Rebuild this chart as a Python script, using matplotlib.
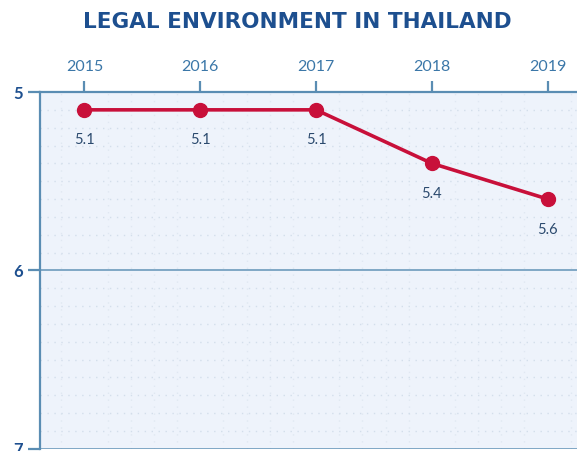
import numpy as np
from matplotlib import pyplot as plt
from matplotlib.ticker import MultipleLocator

years = [2015, 2016, 2017, 2018, 2019]
scores = [5.1, 5.1, 5.1, 5.4, 5.6]
labels = ['5.1', '5.1', '5.1', '5.4', '5.6']
y_ticks = [5, 6, 7]

axis_col = '#5a8db3'
title_col = '#1d4f8f'
line_col = '#c8103a'

fig = plt.figure(figsize=(5.77, 4.51), dpi=100)
ax = fig.add_axes([0.0693, 0.005, 0.94, 0.791])
ax.set_facecolor('#eef3fb')

ax.plot(years, scores, '-o', color=line_col, linewidth=2.6, markersize=10, zorder=3)
for x, y, s in zip(years, scores, labels):
    ax.annotate(s, (x, y), xytext=(0, -17), textcoords='offset points',
                ha='center', va='top', fontsize=10.5, color='#2b4a6e', family='Lato')

ax.set_xlim(2014.616, 2019.3)
ax.set_ylim(7, 5)
ax.set_yticks(y_ticks)
ax.set_xticks(years)
ax.xaxis.tick_top()
ax.yaxis.set_minor_locator(MultipleLocator(0.1))
ax.xaxis.set_minor_locator(MultipleLocator(0.2))

ax.grid(axis='y', which='major', color=axis_col, linewidth=1.3, alpha=0.8)
ax.grid(axis='y', which='minor', color='#d3deeb', linestyle=(0, (1, 4)), linewidth=1)
ax.grid(axis='x', which='minor', color='#e0e8f2', linestyle=(0, (1, 4)), linewidth=1)

for side in ['right', 'bottom']:
    ax.spines[side].set_visible(False)
for side in ['left', 'top']:
    ax.spines[side].set_color(axis_col)
    ax.spines[side].set_linewidth(1.6)

ax.tick_params(axis='x', which='major', length=8, width=1.6, color=axis_col,
               labelcolor='#3b77a8', labelsize=11.5, pad=5)
ax.tick_params(axis='y', which='major', length=9, width=1.6, color=axis_col,
               labelcolor=title_col, labelsize=12, pad=3)
ax.tick_params(which='minor', length=0)
for lbl in ax.get_xticklabels():
    lbl.set_family('Lato')
for lbl in ax.get_yticklabels():
    lbl.set_family('Lato')
    lbl.set_fontweight('bold')

fig.text(0.515, 0.951, 'LEGAL ENVIRONMENT IN THAILAND', ha='center', va='center',
         fontsize=15.5, fontweight='bold', color=title_col, family='DejaVu Sans')

plt.savefig('out.png', dpi=100)
